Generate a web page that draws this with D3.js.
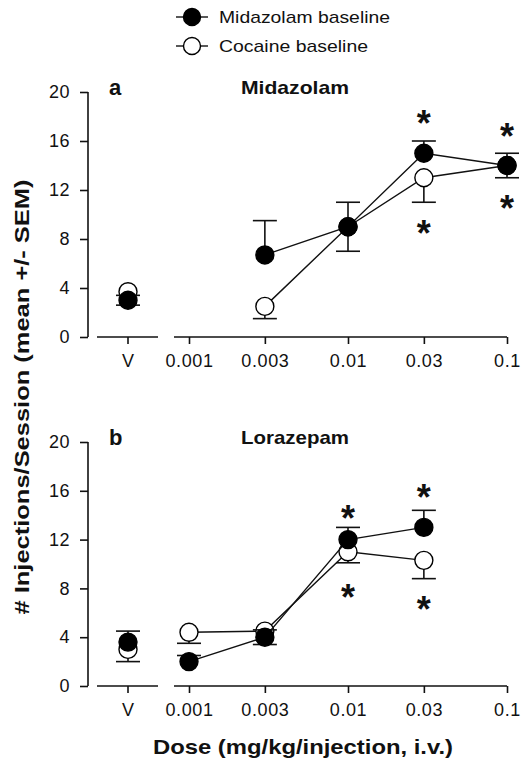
<!DOCTYPE html>
<html>
<head>
<meta charset="UTF-8">
<script src="https://d3js.org/d3.v7.min.js"></script>
<style>
  body { margin: 0; background: #fff; }
  text { font-family: "Liberation Sans", Arial, sans-serif; fill: #111; }
</style>
</head>
<body>
<script>
var w = 521, h = 759;

// dose levels, "V" = vehicle
var dosesA = ["V", 0.003, 0.01, 0.03, 0.1];
var dosesB = ["V", 0.001, 0.003, 0.01, 0.03];
var tickDoses = [0.001, 0.003, 0.01, 0.03, 0.1];
var tickLabels = ["0.001", "0.003", "0.01", "0.03", "0.1"];
var yTicks = [0, 4, 8, 12, 16, 20];

// panel a: Midazolam
var midA = [3.0, 6.7, 9.0, 15.0, 14.0];
var midAUp = [3.4, 9.5, 11.0, 16.0, 15.0];
var cocA = [3.7, 2.5, 9.0, 13.0, 14.0];
var cocALo = [2.6, 1.5, 7.0, 11.0, 13.0];
var starsA = [[0.03, 18.0], [0.03, 9.0], [0.1, 16.9], [0.1, 11.0]];

// panel b: Lorazepam
var midB = [3.6, 2.0, 4.0, 12.0, 13.0];
var midBUp = [4.5, 2.5, 4.6, 13.0, 14.4];
var cocB = [3.0, 4.4, 4.5, 11.0, 10.3];
var cocBLo = [2.0, 3.5, 3.4, 10.1, 8.8];
var starsB = [[0.01, 14.3], [0.01, 7.8], [0.03, 16.0], [0.03, 6.8]];

var svg = d3.select("body").append("svg")
    .attr("width", w)
    .attr("height", h);

var x = d3.scaleLog().domain([0.001, 0.1]).range([189, 507]);
var xV = x(0.001) - 61;
function xPos(d) { return d === "V" ? xV : x(d); }

function drawPanel(opt) {
  var y = d3.scaleLinear().domain([0, 20]).range(opt.yRange);
  var g = svg.append("g");
  var base = y(0);

  // y axis
  g.append("g")
    .attr("transform", "translate(88,0)")
    .call(d3.axisLeft(y).tickValues(yTicks).tickSize(8).tickSizeOuter(0).tickPadding(10))
    .call(function(a) {
      a.selectAll("text").style("font-size", "18px").style("letter-spacing", "0.5px").style("fill", "#111");
      a.selectAll("line,path").attr("stroke", "#111").attr("stroke-width", 1.6);
      a.select(".domain").attr("d", "M0," + y(20) + "V" + y(0));
    });

  // x axis, dose part
  var xa = g.append("g")
    .attr("transform", "translate(0," + base + ")")
    .call(d3.axisBottom(x).tickValues(tickDoses).tickFormat(function(d, i) { return tickLabels[i]; })
      .tickSize(7).tickPadding(10));
  xa.select(".domain").attr("d", "M" + (x(0.001) - 15) + ",0H" + x(0.1));
  xa.selectAll("text").style("font-size", "18px").style("letter-spacing", "0.6px").style("fill", "#111");
  xa.selectAll("line,path").attr("stroke", "#111").attr("stroke-width", 1.6);

  // x axis, vehicle part
  g.append("line").attr("x1", xV - 31).attr("x2", xV + 30)
    .attr("y1", base).attr("y2", base).attr("stroke", "#111").attr("stroke-width", 1.6);
  g.append("line").attr("x1", xV).attr("x2", xV)
    .attr("y1", base).attr("y2", base + 7).attr("stroke", "#111").attr("stroke-width", 1.6);
  g.append("text").attr("x", xV).attr("y", base + 30).attr("text-anchor", "middle")
    .style("font-size", "18px").text("V");

  // panel letter and title
  g.append("text").attr("x", 109).attr("y", y(20) + 3)
    .style("font-size", "22px").style("font-weight", "bold").text(opt.letter);
  g.append("text").attr("x", 295).attr("y", y(20) + 2).attr("text-anchor", "middle")
    .attr("textLength", 108).attr("lengthAdjust", "spacingAndGlyphs")
    .style("font-size", "19px").style("font-weight", "bold").text(opt.title);

  var capW = 12;
  function series(vals, errs, filled) {
    var pts = opt.doses.map(function(d, i) { return { d: d, v: vals[i], e: errs[i] }; });
    var line = d3.line().x(function(p) { return xPos(p.d); }).y(function(p) { return y(p.v); });
    g.append("path").datum(pts.filter(function(p) { return p.d !== "V"; }))
      .attr("d", line).attr("fill", "none").attr("stroke", "#111").attr("stroke-width", 1.4);
    var eb = g.append("g").selectAll("g").data(pts).enter().append("g");
    eb.append("line")
      .attr("x1", function(p) { return xPos(p.d); }).attr("x2", function(p) { return xPos(p.d); })
      .attr("y1", function(p) { return y(p.v); }).attr("y2", function(p) { return y(p.e); })
      .attr("stroke", "#111").attr("stroke-width", 1.6);
    eb.append("line")
      .attr("x1", function(p) { return xPos(p.d) - capW; }).attr("x2", function(p) { return xPos(p.d) + capW; })
      .attr("y1", function(p) { return y(p.e); }).attr("y2", function(p) { return y(p.e); })
      .attr("stroke", "#111").attr("stroke-width", 1.6);
    g.append("g").selectAll("circle").data(pts).enter().append("circle")
      .attr("cx", function(p) { return xPos(p.d); })
      .attr("cy", function(p) { return y(p.v); })
      .attr("r", 9)
      .attr("fill", filled ? "#000" : "#fff")
      .attr("stroke", "#000").attr("stroke-width", 1.4);
  }
  series(opt.coc, opt.cocLo, false);
  series(opt.mid, opt.midUp, true);

  g.selectAll("text.star").data(opt.stars).enter().append("text")
    .attr("class", "star")
    .attr("x", function(s) { return x(s[0]); })
    .attr("y", function(s) { return y(s[1]) + 19; })
    .attr("text-anchor", "middle")
    .style("font-size", "36px").style("font-weight", "bold")
    .text("*");
}

drawPanel({ yRange: [337, 92], doses: dosesA, mid: midA, midUp: midAUp, coc: cocA, cocLo: cocALo,
  stars: starsA, letter: "a", title: "Midazolam" });
drawPanel({ yRange: [686, 442], doses: dosesB, mid: midB, midUp: midBUp, coc: cocB, cocLo: cocBLo,
  stars: starsB, letter: "b", title: "Lorazepam" });

// legend
var legend = svg.append("g");
[["Midazolam baseline", true], ["Cocaine baseline", false]].forEach(function(l, i) {
  var ly = 17 + i * 29;
  legend.append("line").attr("x1", 176).attr("x2", 208).attr("y1", ly).attr("y2", ly)
    .attr("stroke", "#111").attr("stroke-width", 1.4);
  legend.append("circle").attr("cx", 192).attr("cy", ly).attr("r", 8.5)
    .attr("fill", l[1] ? "#000" : "#fff").attr("stroke", "#000").attr("stroke-width", 1.4);
  legend.append("text").attr("x", 219).attr("y", ly + 6)
    .attr("textLength", i === 0 ? 171 : 149).attr("lengthAdjust", "spacingAndGlyphs")
    .style("font-size", "17px").text(l[0]);
});

// axis titles
svg.append("text").attr("x", 303).attr("y", 754).attr("text-anchor", "middle")
  .attr("textLength", 300).attr("lengthAdjust", "spacingAndGlyphs")
  .style("font-size", "21px").style("font-weight", "bold")
  .text("Dose (mg/kg/injection, i.v.)");
svg.append("text").attr("transform", "translate(29,397) rotate(-90)").attr("text-anchor", "middle")
  .attr("textLength", 435).attr("lengthAdjust", "spacingAndGlyphs")
  .style("font-size", "21px").style("font-weight", "bold")
  .text("# Injections/Session (mean +/- SEM)");
</script>
</body>
</html>
